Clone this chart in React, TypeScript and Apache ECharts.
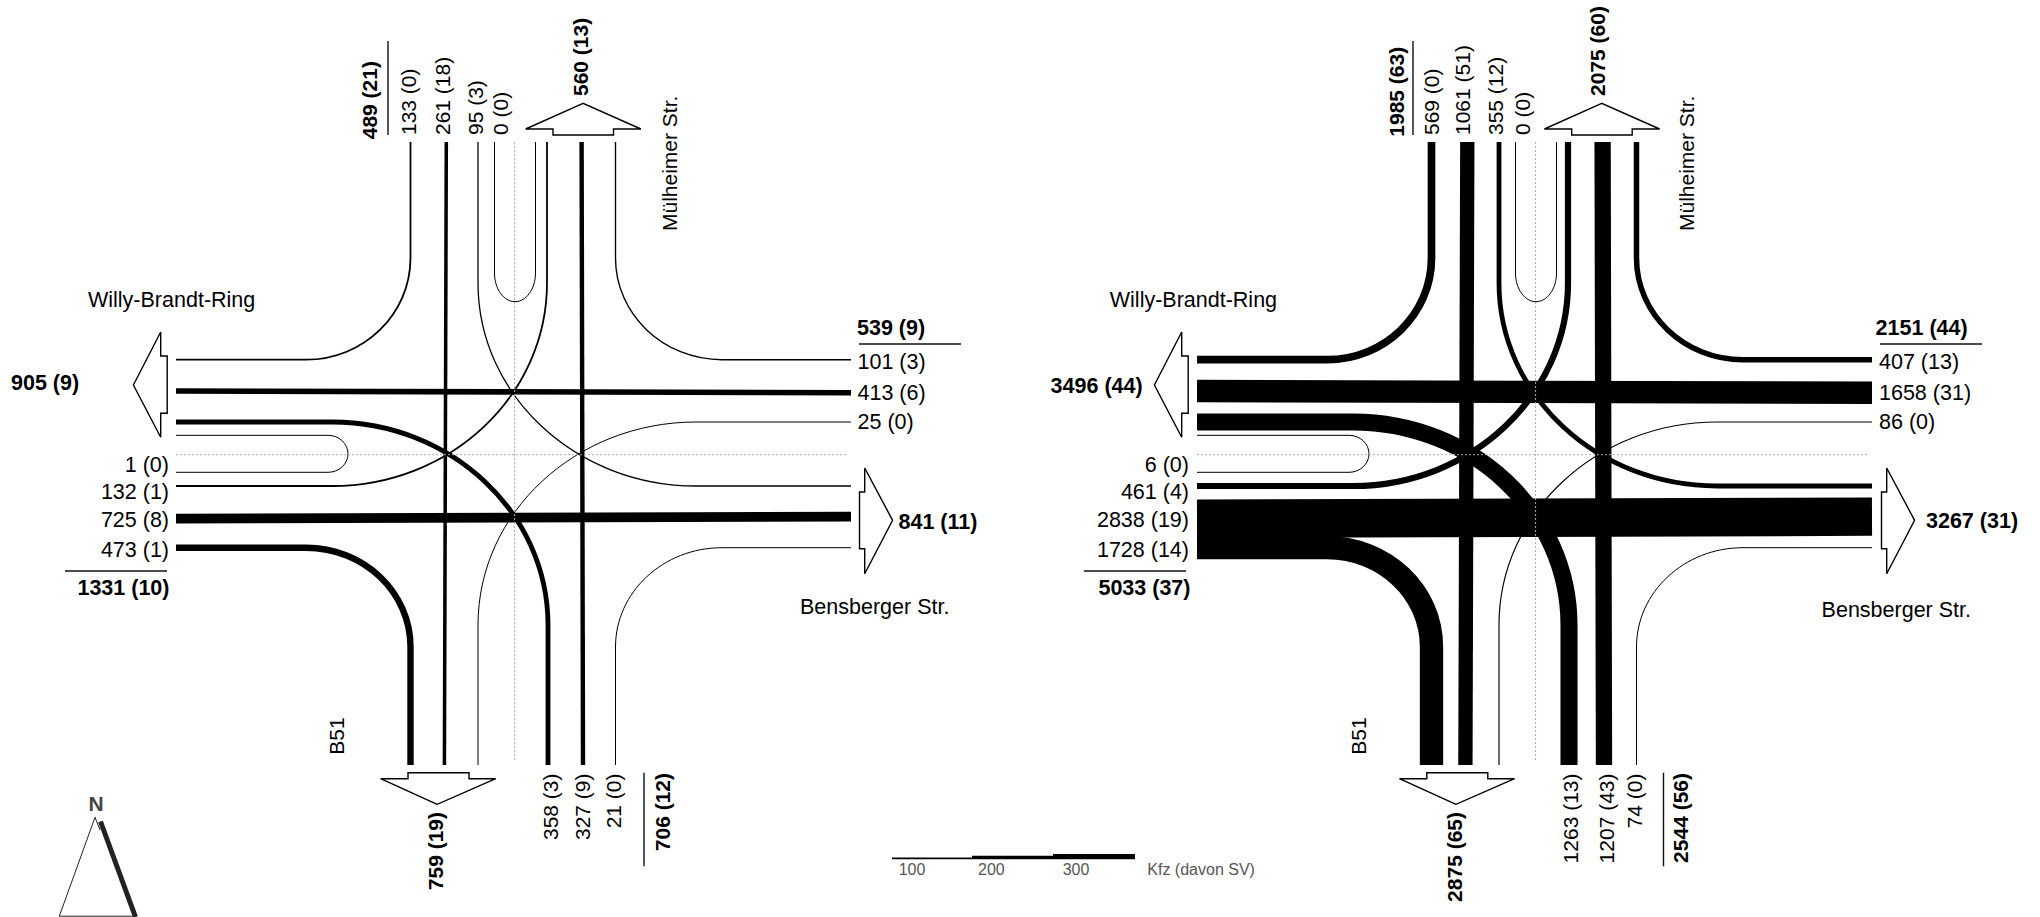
import React, { useEffect, useRef } from "react";
import * as echarts from "echarts";

// ---- data ----
const movements = ["N-W", "N-S", "N-E", "N-N", "E-N", "E-W", "E-S", "S-W", "S-N", "S-E", "W-W", "W-N", "W-E", "W-S"];
const leftVolumes = [133, 261, 95, 0, 101, 413, 25, 358, 327, 21, 1, 132, 725, 473];
const leftHeavy = [0, 18, 3, 0, 3, 6, 0, 3, 9, 0, 0, 1, 8, 1];
const rightVolumes = [569, 1061, 355, 0, 407, 1658, 86, 1263, 1207, 74, 6, 461, 2838, 1728];
const rightHeavy = [0, 51, 12, 0, 13, 31, 0, 13, 43, 0, 0, 4, 19, 14];
const leftTotals = ["489 (21)", "560 (13)", "539 (9)", "841 (11)", "706 (12)", "759 (19)", "1331 (10)", "905 (9)"];
const rightTotals = ["1985 (63)", "2075 (60)", "2151 (44)", "3267 (31)", "2544 (56)", "2875 (65)", "5033 (37)", "3496 (44)"];
const legendValues = [100, 200, 300];
const legendUnit = "Kfz (davon SV)";

// ---- layout (reference pixels) ----
const K = 0.5523;
const WIDTH_PER_VEHICLE = 0.0135;
const LEGEND_WIDTH_PER_VEHICLE = 0.018;
const PANEL_DX = 1021;
type P = [number, number];
const T = 142, B = 765, W = 176, E = 851;
function turn(a: P, b: P, c: P, d: P): string {
  const cx1 = b[0];
  const cy1 = b[1] + (c[1] - b[1]) * K;
  const cx2 = c[0] + (b[0] - c[0]) * K;
  const cy2 = c[1];
  return `M${a[0]} ${a[1]}L${b[0]} ${b[1]}C${cx1} ${cy1} ${cx2} ${cy2} ${c[0]} ${c[1]}L${d[0]} ${d[1]}`;
}
const routes: Record<string, string> = {
  "N-W": turn([410.5, T], [410.5, 258], [306, 359.7], [W, 359.7]),
  "N-S": `M446.3 ${T}L444.4 ${B}`,
  "N-E": turn([478, T], [478, 283], [696, 486], [E, 486]),
  "N-N": `M494.5 ${T}L494.5 273C494.5 ${273 + 28.7 * K} ${515 - 20.5 * K} 301.7 515 301.7C${515 + 20.5 * K} 301.7 535.5 ${273 + 28.7 * K} 535.5 273L535.5 ${T}`,
  "E-N": turn([615.5, T], [615.5, 258], [722, 359.7], [E, 359.7]),
  "E-W": `M${E} 392.7L${W} 391`,
  "E-S": turn([478, B], [478, 625], [696, 422], [E, 422]),
  "S-W": turn([548, B], [548, 625], [332, 422], [W, 422]),
  "S-N": `M583 ${B}L581.6 ${T}`,
  "S-E": turn([615.5, B], [615.5, 647], [722, 547.7], [E, 547.7]),
  "W-W": `M${W} 435.3L328 435.3C${328 + 20 * K} 435.3 348 ${453.8 - 18.5 * K} 348 453.8C348 ${453.8 + 18.5 * K} ${328 + 20 * K} 472.3 328 472.3L${W} 472.3`,
  "W-N": turn([547, T], [547, 283], [332, 486], [W, 486]),
  "W-E": `M${W} 518.7L${E} 516.7`,
  "W-S": turn([410.5, B], [410.5, 647], [306, 547.7], [W, 547.7]),
};

const F = "Liberation Sans, Arial, sans-serif";
const ROT_SHIFT = -1.3;
const text = (t: string, x: number, y: number, o: any = {}) => ({
  type: "text",
  x: o.up ? x + ROT_SHIFT : x,
  y,
  rotation: o.up ? Math.PI / 2 : 0,
  z: 20,
  style: {
    text: t,
    font: `${o.bold ? "bold " : ""}${o.size || (o.up ? 21 : 21.5)}px ${F}`,
    fill: o.fill || "#000",
    align: o.align || "left",
    textAlign: o.align || "left",
    verticalAlign: "middle",
    textVerticalAlign: "middle",
    textBaseline: "middle",
  },
});
const flowLabel = (i: number, vols: number[], heavy: number[]) => `${vols[i]} (${heavy[i]})`;

const topLabelX = [[410, 444, 477, 502], [1433, 1464, 1497, 1523.6]];
const bottomLabelX = [[551.7, 583.6, 614.8], [1571.7, 1607.5, 1636]];

function panelTexts(p: number, vols: number[], heavy: number[], totals: string[]) {
  const out: any[] = [];
  const up = { up: true };
  [0, 1, 2, 3].forEach((i, k) => out.push(text(flowLabel(i, vols, heavy), topLabelX[p][k], 135, up)));
  [7, 8, 9].forEach((i, k) => out.push(text(flowLabel(i, vols, heavy), bottomLabelX[p][k], 773.5, { up: true, align: "right" })));
  const rx = p ? 1879 : 857.5;
  [4, 5, 6].forEach((i, k) => out.push(text(flowLabel(i, vols, heavy), rx, [362, 393.3, 422.3][k])));
  const lx = p ? 1189 : 169;
  [10, 11, 12, 13].forEach((i, k) => out.push(text(flowLabel(i, vols, heavy), lx, [465.3, 492, 520.3, 549.7][k], { align: "right" })));
  const b = { bold: true };
  out.push(text(totals[0], p ? 1397.4 : 371, p ? 136.7 : 139.3, { up: true, bold: true }));
  out.push(text(totals[1], p ? 1599 : 582, 96, { up: true, bold: true }));
  out.push(text(totals[2], p ? 1875.6 : 857, 328, b));
  out.push(text(totals[3], p ? 1926 : 898.5, p ? 521 : 522, b));
  out.push(text(totals[4], p ? 1682 : 663.6, 773, { up: true, bold: true, align: "right" }));
  out.push(text(totals[5], p ? 1456 : 437, 812, { up: true, bold: true, align: "right" }));
  out.push(text(totals[6], p ? 1190.5 : 169.5, 587.7, { bold: true, align: "right" }));
  out.push(text(totals[7], p ? 1050.6 : 11, p ? 386 : 382.5, b));
  out.push(text("Mülheimer Str.", p ? 1688 : 671, 231, up));
  out.push(text("Willy-Brandt-Ring", p ? 1109.8 : 88, 300));
  out.push(text("Bensberger Str.", p ? 1821.6 : 800, p ? 610 : 607));
  out.push(text("B51", p ? 1359.6 : 338, 754.7, up));
  const rule = (x1: number, y1: number, x2: number, y2: number) => ({
    type: "line", z: 5, shape: { x1, y1, x2, y2 }, style: { stroke: "#111", lineWidth: 1.4 },
  });
  out.push(rule(p ? 1413 : 388, 41, p ? 1413 : 388, 135));
  out.push(rule(p ? 1880 : 859, 344, p ? 1982 : 961, 344));
  out.push(rule(p ? 1083.8 : 65, 571, p ? 1186 : 167, 571));
  out.push(rule(p ? 1663.5 : 644, 772.7, p ? 1663.5 : 644, 866.3));
  const arrow = (dx: number, pts: number[][]) => ({
    type: "polygon", z: 6, shape: { points: pts.map(([x, y]) => [x + dx, y]) },
    style: { fill: "#fff", stroke: "#000", lineWidth: 1.4 },
  });
  out.push(arrow(p ? 1021 : 0, [[133.4, 385], [160.7, 332], [160.7, 356], [167.2, 356], [167.2, 413.3], [160.7, 413.3], [160.7, 437.3]]));
  out.push(arrow(p ? 1022 : 0, [[892.6, 520.3], [864.7, 468], [864.7, 492], [859.5, 492], [859.5, 548.7], [864.7, 548.7], [864.7, 573.7]]));
  out.push(arrow(p ? 1018.7 : 0, [[583, 103.3], [525.7, 129], [553, 129], [553, 135], [613.5, 135], [613.5, 129], [640.9, 129]]));
  out.push(arrow(p ? 1018.8 : 0, [[437.2, 804.3], [380.6, 778.7], [408, 778.7], [408, 772.7], [469, 772.7], [469, 778.7], [495.8, 778.7]]));
  const dx = p ? PANEL_DX : 0;
  const dash = (x1: number, y1: number, x2: number, y2: number) => ({
    type: "line", z: 10, shape: { x1: x1 + dx, y1, x2: x2 + dx, y2 },
    style: { stroke: "#aaa", lineWidth: 1, lineDash: [2, 2] },
  });
  out.push(dash(514.6, 142, 514.6, 762));
  out.push(dash(W, 454.7, 846, 454.7));
  return out;
}

function legendGraphics() {
  const out: any[] = [];
  const xs = [892, 972, 1053, 1135];
  const labelX = [898.7, 978, 1062.7];
  legendValues.forEach((v, i) => {
    const h = v * LEGEND_WIDTH_PER_VEHICLE;
    out.push({ type: "rect", z: 5, shape: { x: xs[i], y: 859.3 - h, width: xs[i + 1] - xs[i], height: h }, style: { fill: "#000" } });
    out.push(text(String(v), labelX[i], 869, { size: 16, fill: "#555" }));
  });
  out.push(text(legendUnit, 1147.3, 869, { size: 16, fill: "#555" }));
  return out;
}

function compassGraphics() {
  return [
    { type: "polyline", z: 5, shape: { points: [[136, 916.2], [59.3, 916.2], [95, 817.3], [100, 830]] }, style: { stroke: "#222", lineWidth: 1, fill: "none" } },
    { type: "line", z: 5, shape: { x1: 100.5, y1: 821.5, x2: 135.5, y2: 917 }, style: { stroke: "#222", lineWidth: 5 } },
    text("N", 96, 803, { bold: true, size: 21, align: "center", fill: "#444" }),
  ];
}

const flowRows: number[][] = [];
movements.forEach((_, i) => flowRows.push([0, i, leftVolumes[i]]));
movements.forEach((_, i) => flowRows.push([1, i, rightVolumes[i]]));

function renderFlow(_params: any, api: any) {
  const panel = api.value(0);
  const idx = api.value(1);
  const volume = api.value(2);
  const [ox, oy] = api.coord([panel ? PANEL_DX : 0, 0]);
  return {
    type: "path",
    x: ox,
    y: oy,
    shape: { pathData: routes[movements[idx]] },
    style: {
      fill: "none",
      stroke: "#000",
      lineWidth: Math.max(1, volume * WIDTH_PER_VEHICLE),
      lineCap: "butt",
      lineJoin: "round",
    },
  };
}

export default function App() {
  const ref = useRef<HTMLDivElement>(null);
  useEffect(() => {
    document.body.style.margin = "0";
    const chart = echarts.init(ref.current!, null, { renderer: "svg" });
    chart.setOption({
      animation: false,
      backgroundColor: "#fff",
      grid: { left: 0, right: 0, top: 0, bottom: 0 },
      xAxis: { type: "value", min: 0, max: 2040, show: false },
      yAxis: { type: "value", min: 0, max: 917, inverse: true, show: false },
      series: [
        {
          type: "custom",
          coordinateSystem: "cartesian2d",
          clip: false,
          silent: true,
          data: flowRows,
          encode: { x: 0, y: 1 },
          renderItem: renderFlow,
        },
      ],
      graphic: {
        elements: [
          ...panelTexts(0, leftVolumes, leftHeavy, leftTotals),
          ...panelTexts(1, rightVolumes, rightHeavy, rightTotals),
          ...legendGraphics(),
          ...compassGraphics(),
        ],
      },
    });
    return () => chart.dispose();
  }, []);
  return <div ref={ref} style={{ position: "absolute", left: 0, top: 0, width: 2040, height: 917 }} />;
}
